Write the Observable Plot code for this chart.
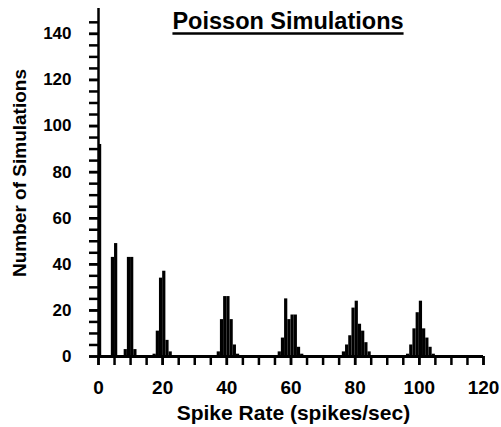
<!DOCTYPE html>
<html><head><meta charset="utf-8">
<script src="https://cdn.jsdelivr.net/npm/d3@7"></script>
<script src="https://cdn.jsdelivr.net/npm/@observablehq/plot@0.6"></script>
<style>
html,body{margin:0;padding:0;background:#fff;}
#chart{width:501px;height:427px;}
svg{display:block;}
</style></head><body><div id="chart"></div>
<script>
// Histogram bins (left edge of each 1 spike/sec bin) and number of simulations
const binStart = [0,
  4, 5,
  8, 9, 10, 11,
  17, 18, 19, 20, 21, 22,
  37, 38, 39, 40, 41, 42, 43,
  56, 57, 58, 59, 60, 61, 62, 63,
  76, 77, 78, 79, 80, 81, 82, 83, 84,
  96, 97, 98, 99, 100, 101, 102, 103, 104];
const counts = [92,
  43, 49,
  3, 43, 43, 3,
  1, 11, 34, 37, 7, 2,
  2, 16, 26, 26, 16, 5, 1,
  2, 8, 25, 16, 18, 18, 4, 1,
  2, 5, 9, 21, 24, 14, 11, 6, 2,
  1, 5, 12, 19, 24, 12, 8, 4, 1];

const xLabelTicks = [0, 20, 40, 60, 80, 100, 120];
const xMinorTicks = [0, 5, 10, 15, 20, 25, 30, 35, 40, 45, 50, 55, 60, 65, 70, 75, 80, 85, 90, 95, 100, 105, 110, 115, 120];
const yLabelTicks = [0, 20, 40, 60, 80, 100, 120, 140];
const yMinorTicks = [0, 5, 10, 15, 20, 25, 30, 35, 40, 45, 50, 55, 60, 65, 70, 75, 80, 85, 90, 95, 100, 105, 110, 115, 120, 125, 130, 135, 140, 145];

const titleText = "Poisson Simulations";
const xTitle = "Spike Rate (spikes/sec)";
const yTitle = "Number of Simulations";

const bars = binStart.map((b, i) => ({x1: b, x2: b + 1, count: counts[i]}));
const font = "'Liberation Sans', Arial, Helvetica, sans-serif";

const plot = Plot.plot({
  width: 501, height: 427,
  marginLeft: 98, marginRight: 18, marginTop: 8, marginBottom: 71,
  style: {fontFamily: font, fontWeight: "bold", color: "#000", background: "#fff", overflow: "visible"},
  x: {domain: [0, 120], label: null},
  y: {domain: [0, 151], label: null},
  marks: [
    Plot.rect(bars, {x1: "x1", x2: "x2", y1: 0, y2: "count", fill: "#000"}),
    Plot.axisX({ticks: xMinorTicks, tickSize: 9, tickFormat: () => "", strokeWidth: 2.5, label: null}),
    Plot.axisX({ticks: xLabelTicks, tickSize: 9, tickPadding: 15, fontSize: 19, strokeWidth: 2.5, label: null}),
    Plot.axisY({ticks: yMinorTicks, tickSize: 9, tickFormat: () => "", strokeWidth: 2.5, label: null}),
    Plot.axisY({ticks: yLabelTicks, tickSize: 9, tickPadding: 18, fontSize: 17, strokeWidth: 2.5, label: null}),
    Plot.ruleY([0], {stroke: "#000", strokeWidth: 3}),
    Plot.ruleX([0], {stroke: "#000", strokeWidth: 2.5}),
    Plot.text([titleText], {text: d => d, frameAnchor: "top", textAnchor: "middle", lineAnchor: "middle", fontSize: 23.5, dx: -3, dy: 13, fill: "#000"}),
    Plot.text([xTitle], {text: d => d, frameAnchor: "bottom", textAnchor: "middle", lineAnchor: "middle", fontSize: 21, dx: 2.4, dy: 57, fill: "#000"}),
    Plot.text([yTitle], {text: d => d, frameAnchor: "left", textAnchor: "middle", lineAnchor: "middle", rotate: -90, fontSize: 19, dx: -79, dy: -9.5, fill: "#000"})
  ]
});
document.getElementById("chart").appendChild(plot);

// underline the title
const t = Array.from(plot.querySelectorAll("text")).find(e => e.textContent === titleText);
if (t) {
  const bb = t.getBBox();
  const g = t.parentNode;
  const line = document.createElementNS("http://www.w3.org/2000/svg", "line");
  line.setAttribute("x1", bb.x);
  line.setAttribute("x2", bb.x + bb.width);
  line.setAttribute("y1", bb.y + bb.height - 0.5);
  line.setAttribute("y2", bb.y + bb.height - 0.5);
  line.setAttribute("stroke", "#000");
  line.setAttribute("stroke-width", 2.5);
  const tr = t.getAttribute("transform");
  if (tr) line.setAttribute("transform", tr);
  g.appendChild(line);
}
</script></body></html>
